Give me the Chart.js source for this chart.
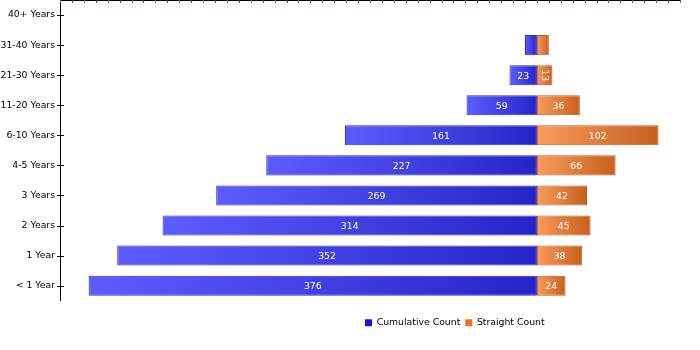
<!DOCTYPE html>
<html>
<head>
<meta charset="utf-8">
<script src="https://cdn.jsdelivr.net/npm/chart.js@4.4.1/dist/chart.umd.min.js"></script>
<style>
  html, body { margin: 0; padding: 0; background: #fff; }
  #wrap { width: 700px; height: 350px; }
</style>
</head>
<body>
<div id="wrap"><canvas id="c" width="700" height="350"></canvas></div>
<script>
const categories = ['40+ Years', '31-40 Years', '21-30 Years', '11-20 Years', '6-10 Years', '4-5 Years', '3 Years', '2 Years', '1 Year', '< 1 Year'];
const cumulativeCount = [0, 10, 23, 59, 161, 227, 269, 314, 352, 376];
const straightCount = [0, 10, 13, 36, 102, 66, 42, 45, 38, 24];
const seriesNames = ['Cumulative Count', 'Straight Count'];

const FONT = 'DejaVu Sans, Verdana, sans-serif';
const FSIZE = 9.3;

function gradFill(c1, c2) {
  return function (ctx) {
    const chart = ctx.chart;
    const xs = chart.scales.x;
    if (!xs || !ctx.parsed) return c1;
    const a = xs.getPixelForValue(0);
    const b = xs.getPixelForValue(ctx.parsed.x);
    const l = Math.min(a, b), r = Math.max(a, b);
    if (!isFinite(l) || r - l < 1) return c1;
    const g = chart.ctx.createLinearGradient(l, 0, r, 0);
    g.addColorStop(0, c1);
    g.addColorStop(1, c2);
    return g;
  };
}

const axisPlugin = {
  id: 'axisDecor',
  afterDraw(chart) {
    const ctx = chart.ctx;
    const ca = chart.chartArea;
    const xs = chart.scales.x, ys = chart.scales.y;
    ctx.save();
    ctx.strokeStyle = '#000';
    ctx.lineWidth = 1;
    ctx.beginPath();
    ctx.moveTo(ca.left, ca.top + 0.5);
    ctx.lineTo(ca.right, ca.top + 0.5);
    ctx.stroke();
    xs.ticks.forEach(t => {
      const px = Math.round(xs.getPixelForValue(t.value)) + 0.5;
      ctx.strokeStyle = (Math.round(t.value) % 20 === 0) ? '#666' : '#e00000';
      ctx.beginPath();
      ctx.moveTo(px, ca.top);
      ctx.lineTo(px, ca.top + 3);
      ctx.stroke();
    });
    ctx.strokeStyle = '#000';
    categories.forEach((c, i) => {
      const py = Math.round(ys.getPixelForValue(i)) + 0.5;
      ctx.beginPath();
      ctx.moveTo(ca.left - 3, py);
      ctx.lineTo(ca.left + 4, py);
      ctx.stroke();
    });
    ctx.restore();
  }
};

const labelPlugin = {
  id: 'barLabels',
  afterDatasetsDraw(chart) {
    const ctx = chart.ctx;
    ctx.save();
    ctx.font = FSIZE + 'px ' + FONT;
    ctx.fillStyle = '#fff';
    ctx.textAlign = 'center';
    ctx.textBaseline = 'middle';
    const sources = [cumulativeCount, straightCount];
    chart.data.datasets.forEach((ds, di) => {
      const meta = chart.getDatasetMeta(di);
      meta.data.forEach((el, i) => {
        const v = sources[di][i];
        if (!v) return;
        const txt = String(v);
        const w = Math.abs(el.x - el.base);
        const cx = (el.x + el.base) / 2;
        const cy = el.y;
        const tw = ctx.measureText(txt).width;
        if (tw + 6 <= w) {
          ctx.fillText(txt, cx, cy + 1);
        } else if (w >= 13) {
          ctx.save();
          ctx.translate(cx, cy);
          ctx.rotate(Math.PI / 2);
          ctx.fillText(txt, 0, 0);
          ctx.restore();
        }
      });
    });
    ctx.restore();
  }
};

const legendMovePlugin = {
  id: 'legendMove',
  afterLayout(chart) {
    const lg = chart.legend;
    if (!lg) return;
    const dx = 360 - lg.left;
    lg.left += dx;
    lg.right += dx;
    const dy = 313 - lg.top;
    lg.top += dy;
    lg.bottom += dy;
  }
};

function zeroPad(s) {
  s.paddingTop = 0; s.paddingBottom = 0; s.paddingLeft = 0; s.paddingRight = 0;
}

new Chart(document.getElementById('c'), {
  type: 'bar',
  data: {
    labels: categories,
    datasets: [
      {
        label: seriesNames[0],
        data: cumulativeCount.map(v => -v),
        backgroundColor: gradFill('#5d5dff', '#2424c8'),
        borderColor: '#2a2ad6',
        borderWidth: 1,
        borderSkipped: false,
        legendColor: '#1414e6'
      },
      {
        label: seriesNames[1],
        data: straightCount,
        backgroundColor: gradFill('#f99c5c', '#c6601c'),
        borderColor: '#c4581a',
        borderWidth: 1,
        borderSkipped: false,
        legendColor: '#f07020'
      }
    ]
  },
  options: {
    indexAxis: 'y',
    responsive: false,
    animation: false,
    maintainAspectRatio: false,
    categoryPercentage: 1,
    barPercentage: 2 / 3,
    layout: { padding: { left: 0, right: 20, top: 0, bottom: 25 } },
    scales: {
      x: {
        stacked: true,
        position: 'top',
        min: -400,
        max: 120,
        ticks: { display: false, stepSize: 10 },
        grid: { display: false },
        border: { display: false },
        afterFit(s) { s.height = 0; zeroPad(s); }
      },
      y: {
        stacked: true,
        position: 'left',
        grid: { display: false, drawTicks: false },
        border: { display: true, color: '#000', width: 1 },
        ticks: { color: '#000', font: { family: FONT, size: FSIZE }, padding: 5 },
        afterFit(s) { s.width = 60; zeroPad(s); }
      }
    },
    plugins: {
      tooltip: { enabled: false },
      legend: {
        display: true,
        position: 'bottom',
        align: 'start',
        labels: {
          boxWidth: 7,
          boxHeight: 7,
          padding: 5,
          color: '#000',
          font: { family: FONT, size: FSIZE },
          generateLabels(chart) {
            return chart.data.datasets.map((ds, i) => ({
              text: ds.label,
              fillStyle: ds.legendColor,
              strokeStyle: ds.legendColor,
              lineWidth: 0,
              hidden: false,
              datasetIndex: i
            }));
          }
        }
      }
    }
  },
  plugins: [axisPlugin, labelPlugin, legendMovePlugin]
});
</script>
</body>
</html>
